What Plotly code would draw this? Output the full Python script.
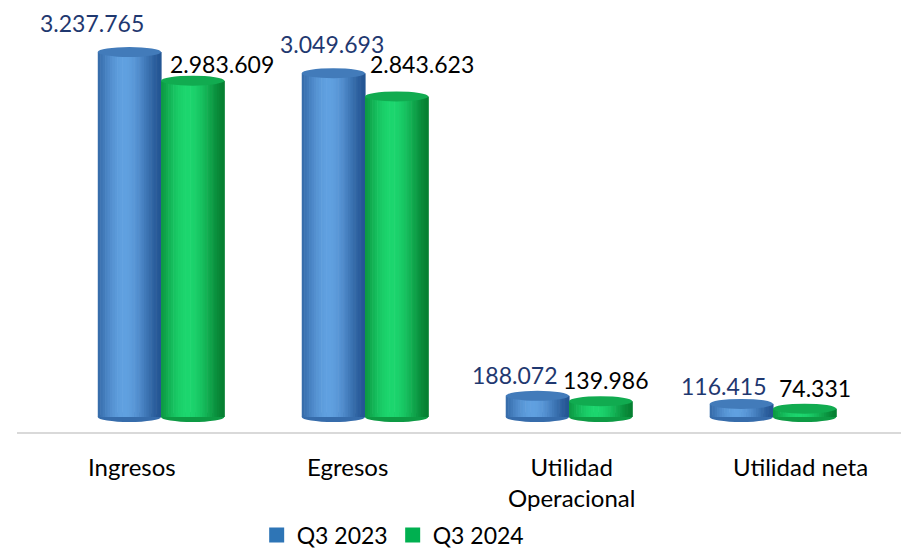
import math
import plotly.graph_objects as go

categories = ["Ingresos", "Egresos", "Utilidad<br>Operacional", "Utilidad neta"]
series_names = ["Q3 2023", "Q3 2024"]
q3_2023 = [3237765, 3049693, 188072, 116415]
q3_2024 = [2983609, 2843623, 139986, 74331]
label_2023 = ["3.237.765", "3.049.693", "188.072", "116.415"]
label_2024 = ["2.983.609", "2.843.623", "139.986", "74.331"]

# label placement tweaks (pixels), style only
shift_2023 = [(-37, 13), (-1, 13), (-23, 5), (-18, 2)]
shift_2024 = [(29, 1), (25, 16), (5, 5), (10, 5)]
cat_shift = [-29, -17, 3, 28]

FONT = "Lato"
W = 0.31  # bar width in category units
N = 26    # vertical strips per cylinder for shading

def lerp(c1, c2, t):
    return "rgb(%d,%d,%d)" % tuple(round(a + (b - a) * t) for a, b in zip(c1, c2))

blue_dark, blue_light = (36, 86, 148), (96, 160, 224)
green_dark, green_light = (6, 128, 50), (28, 214, 110)

def shade(i):
    p = (i + 0.5) / N
    return max(0.0, math.cos((p - 0.42) * math.pi / 1.12)) ** 1.4

fig = go.Figure()
xs = list(range(len(categories)))
for vals, off0, dark, light in [(q3_2023, -W, blue_dark, blue_light),
                                (q3_2024, 0.0, green_dark, green_light)]:
    for i in range(N):
        fig.add_trace(go.Bar(
            x=xs, y=vals, base=0,
            width=W / N * 1.25, offset=off0 + W / N * i,
            marker=dict(color=lerp(dark, light, shade(i)), line=dict(width=0)),
            showlegend=False, hoverinfo="skip"))

shapes = []
for vals, off0, dark, light in [(q3_2023, -W, blue_dark, blue_light),
                                (q3_2024, 0.0, green_dark, green_light)]:
    for x, v in zip(xs, vals):
        shapes.append(dict(type="circle", xref="x", yref="y", x0=x + off0, x1=x + off0 + W,
                           ysizemode="pixel", yanchor=0, y0=-5, y1=5,
                           fillcolor=lerp(dark, light, 0.3), line=dict(width=0), layer="below"))
        shapes.append(dict(type="circle", xref="x", yref="y", x0=x + off0, x1=x + off0 + W,
                           ysizemode="pixel", yanchor=v, y0=-5, y1=5,
                           fillcolor=lerp(dark, light, 0.5), line=dict(width=0), layer="above"))

annotations = []
for x, v, t, (dx, dy) in zip(xs, q3_2023, label_2023, shift_2023):
    annotations.append(dict(x=x - W / 2, y=v, text=t, showarrow=False, xanchor="center",
                            yanchor="bottom", xshift=dx, yshift=dy,
                            font=dict(family=FONT, size=23, color="#1F3870")))
for x, v, t, (dx, dy) in zip(xs, q3_2024, label_2024, shift_2024):
    annotations.append(dict(x=x + W / 2, y=v, text=t, showarrow=False, xanchor="center",
                            yanchor="bottom", xshift=dx, yshift=dy,
                            font=dict(family=FONT, size=23, color="#000000")))
for x, c, dx in zip(xs, categories, cat_shift):
    annotations.append(dict(x=x, xref="x", y=0, yref="paper", text=c, showarrow=False,
                            xanchor="center", yanchor="top", xshift=dx, yshift=-18,
                            font=dict(family=FONT, size=24, color="#000000")))

fig.add_trace(go.Scatter(x=[None], y=[None], mode="markers", name=series_names[0],
                         marker=dict(symbol="square", size=15, color="#2E75B6")))
fig.add_trace(go.Scatter(x=[None], y=[None], mode="markers", name=series_names[1],
                         marker=dict(symbol="square", size=15, color="#00B050")))

# page body has an 8px margin, so the figure is sized to the visible window
fig.update_layout(
    width=901, height=541,
    margin=dict(l=9, r=0, t=2, b=117, autoexpand=False),
    barmode="overlay",
    plot_bgcolor="white", paper_bgcolor="white",
    font=dict(family=FONT, size=24, color="#000000"),
    shapes=shapes, annotations=annotations,
    showlegend=True,
    legend=dict(orientation="h", xref="container", yref="container",
                x=0.276, xanchor="left", y=0.026, yanchor="middle",
                font=dict(family=FONT, size=23), itemwidth=30, tracegroupgap=0,
                bgcolor="rgba(0,0,0,0)"),
    xaxis=dict(range=[-0.706, 3.667], showticklabels=False, automargin=False,
               showline=True, linecolor="#D9D9D9", linewidth=2, showgrid=False,
               zeroline=False, ticks=""),
    yaxis=dict(range=[-133000, 3610500], visible=False, showgrid=False, zeroline=False,
               automargin=False),
)

fig.write_html("out.html")
